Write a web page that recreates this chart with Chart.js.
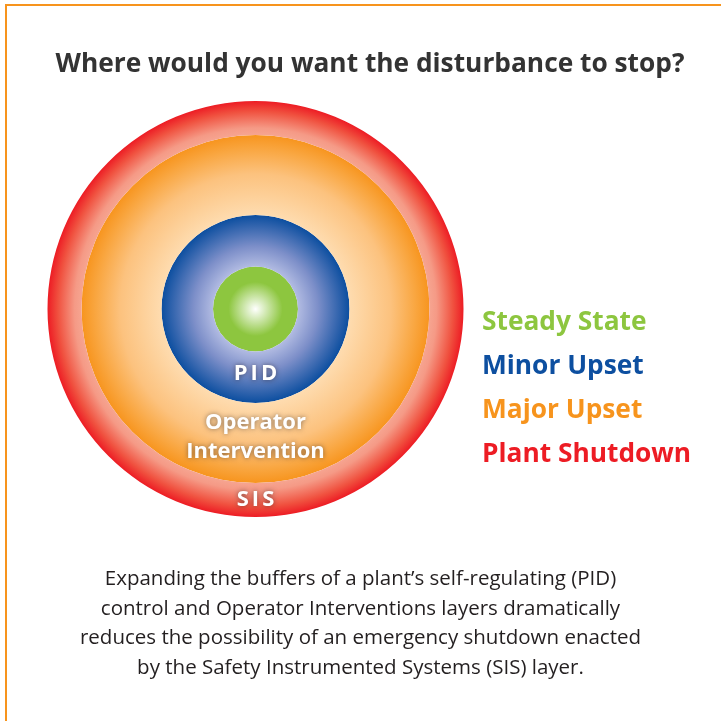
<!DOCTYPE html>
<html>
<head>
<meta charset="utf-8">
<script src="https://cdn.jsdelivr.net/npm/chart.js@4.4.1/dist/chart.umd.min.js"></script>
<style>
    html, body { margin: 0; padding: 0; background: #fff; overflow: hidden; }
    #page { position: relative; width: 721px; height: 721px; }
    #frame {
        position: absolute; left: 5px; top: 4px; width: 760px; height: 760px;
        border-top: 2px solid #f7941d; border-left: 2px solid #f7941d;
    }
    #chart { position: absolute; left: 0; top: 0; }
    #title {
        position: absolute; left: 0; width: 740px; top: 45px; margin: 0;
        text-align: center; font: bold 26.3px "Open Sans", sans-serif; color: #333333;
        line-height: 34px;
    }
    #caption {
        position: absolute; left: 0; width: 721px; top: 563px; margin: 0;
        text-align: center; font: 20.5px "Open Sans", sans-serif; color: #231f20;
        line-height: 29.5px;
    }
</style>
</head>
<body>
<div id="page">
    <div id="frame"></div>
    <canvas id="chart" width="721" height="721"></canvas>
    <p id="title">Where would you want the disturbance to stop?</p>
    <p id="caption">Expanding the buffers of a plant’s self-regulating (PID)<br>control and Operator Interventions layers dramatically<br>reduces the possibility of an emergency shutdown enacted<br>by the Safety Instrumented Systems (SIS) layer.</p>
</div>
<script>
// Data (outermost layer first)
const states = ['Plant Shutdown', 'Major Upset', 'Minor Upset', 'Steady State'];
const layerNames = ['SIS', 'Operator\nIntervention', 'PID', ''];
const ringWidths = [34, 80, 51.5, 42.5];
const stateColors = ['#ed1c24', '#f7941d', '#0d4fa0', '#8dc63f'];

// gradient stops for each disc, as fraction of the full chart radius
const gradientStops = [
    [[0.80, '#f7b09c'], [0.87, '#f59a86'], [0.95, '#f0513f'], [1, '#ed1c24']],
    [[0, '#fff4e4'], [0.45, '#fedcb0'], [0.65, '#fcc27e'], [0.77, '#f9a640'], [0.84, '#f7941d']],
    [[0, '#ffffff'], [0.2, '#b4bde3'], [0.3, '#7d8fc9'], [0.45, '#0d4fa0']],
    [[0, '#ffffff'], [0.03, '#e4f2d2'], [0.13, '#8dc63f'], [0.21, '#8dc63f']]
];

function ringGradient(context) {
    const chart = context.chart;
    const area = chart.chartArea;
    if (!area) return stateColors[context.datasetIndex];
    const cx = (area.left + area.right) / 2;
    const cy = (area.top + area.bottom) / 2;
    const R = Math.min(area.right - area.left, area.bottom - area.top) / 2;
    const g = chart.ctx.createRadialGradient(cx, cy, 0, cx, cy, R);
    gradientStops[context.datasetIndex].forEach(s => g.addColorStop(s[0], s[1]));
    return g;
}

// Ring labels and right-hand legend
const layerLabelPlugin = {
    id: 'layerLabels',
    afterDatasetsDraw(chart) {
        const ctx = chart.ctx;
        const nudges = [0, -6, -4, 0];
        ctx.save();
        ctx.textAlign = 'center';
        ctx.textBaseline = 'middle';
        ctx.fillStyle = '#ffffff';
        ctx.shadowColor = 'rgba(40, 30, 30, 0.55)';
        ctx.shadowBlur = 5;
        ctx.font = 'bold 22px "Open Sans", sans-serif';
        chart.data.datasets.forEach((ds, i) => {
            const name = layerNames[i];
            if (!name) return;
            const arc = chart.getDatasetMeta(i).data[0];
            const mid = (arc.innerRadius + arc.outerRadius) / 2;
            const lines = name.split('\n');
            const lh = 29;
            lines.forEach((line, j) => {
                const y = arc.y + mid + nudges[i] + (j - (lines.length - 1) / 2) * lh;
                ctx.letterSpacing = lines.length === 1 ? '3px' : '0px';
                ctx.fillText(line, arc.x + (lines.length === 1 ? 1.5 : 0), y);
            });
        });
        ctx.restore();

        // legend: innermost state at the top
        ctx.save();
        ctx.textAlign = 'left';
        ctx.textBaseline = 'alphabetic';
        ctx.font = 'bold 26.3px "Open Sans", sans-serif';
        for (let k = 0; k < states.length; k++) {
            const i = states.length - 1 - k;
            ctx.fillStyle = stateColors[i];
            ctx.fillText(states[i], 482, 330 + k * 44);
        }
        ctx.restore();
    }
};

new Chart(document.getElementById('chart'), {
    type: 'doughnut',
    data: {
        labels: ['layer'],
        datasets: ringWidths.map((w, i) => ({
            label: states[i],
            data: [1],
            weight: w,
            backgroundColor: ringGradient,
            borderWidth: 0,
            hoverOffset: 0,
            offset: 0
        }))
    },
    options: {
        responsive: false,
        animation: false,
        cutout: 0,
        layout: { padding: { left: 47, right: 257, top: 101, bottom: 204 } },
        plugins: {
            legend: { display: false },
            title: { display: false },
            tooltip: { enabled: false }
        }
    },
    plugins: [layerLabelPlugin]
});
</script>
</body>
</html>
